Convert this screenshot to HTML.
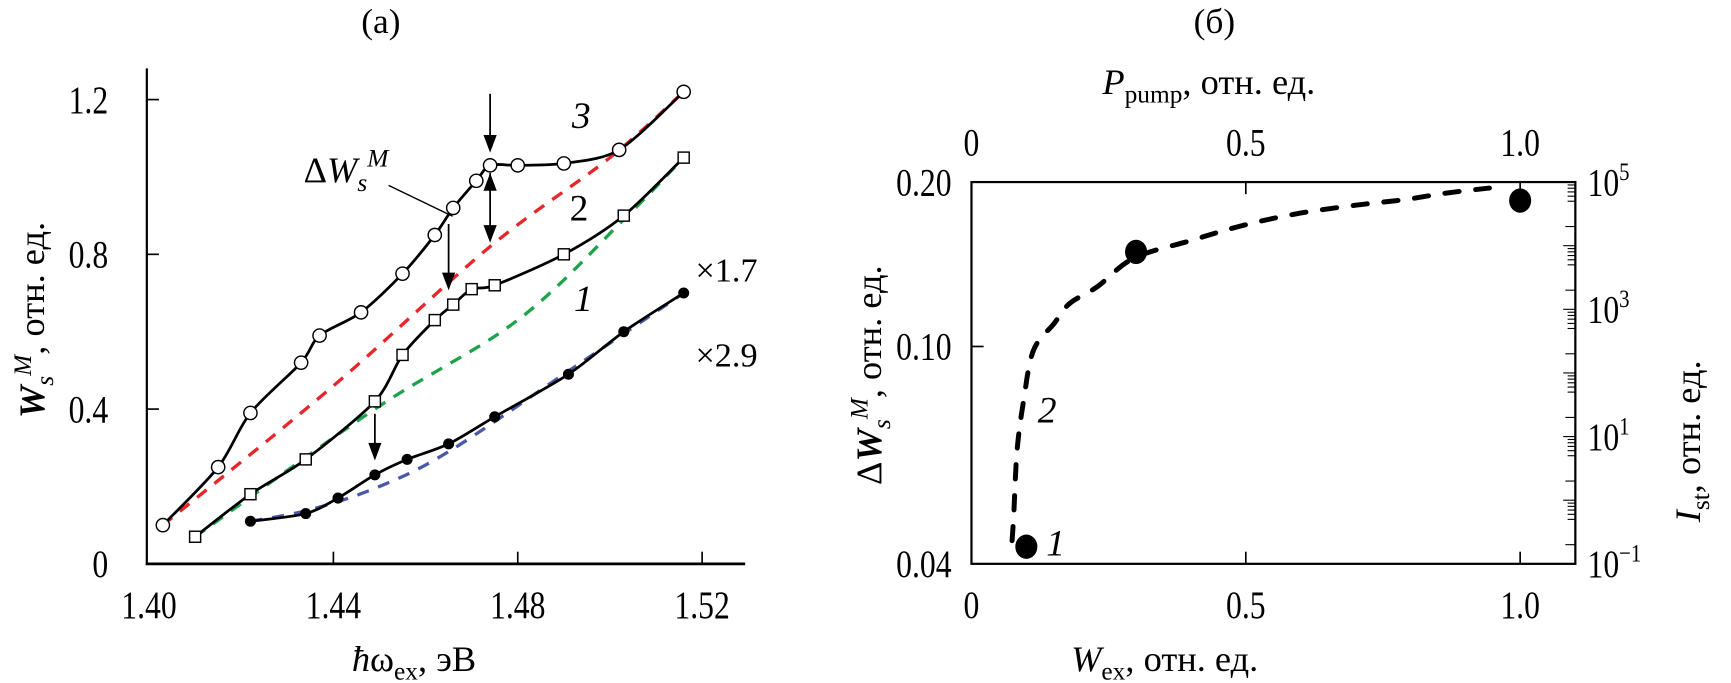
<!DOCTYPE html>
<html><head><meta charset="utf-8"><style>
html,body{margin:0;padding:0;background:#fff;}
svg{display:block;font-family:"Liberation Serif",serif;}
</style></head><body>
<svg id="fig" width="1731" height="683" viewBox="0 0 1568 619" preserveAspectRatio="none">
<g id="left"></g>
<g id="right"></g>
</svg>
<script>
// ---- Panel (a) data ----
const s3x=[1.403,1.415,1.422,1.433,1.437,1.446,1.455,1.462,1.466,1.471,1.474,1.480,1.490,1.502,1.516];
const s3y=[0.10,0.25,0.39,0.52,0.59,0.65,0.75,0.85,0.92,0.99,1.03,1.03,1.035,1.07,1.22];
const r3x=[1.403,1.44,1.474,1.50,1.516];
const r3y=[0.10,0.46,0.82,1.05,1.22];
const s2x=[1.410,1.422,1.434,1.449,1.455,1.462,1.466,1.470,1.475,1.490,1.503,1.516];
const s2y=[0.07,0.18,0.27,0.42,0.54,0.63,0.67,0.71,0.72,0.80,0.90,1.05];
const g2x=[1.410,1.449,1.48,1.503,1.516];
const g2y=[0.07,0.40,0.63,0.89,1.05];
const s1x=[1.422,1.434,1.441,1.449,1.456,1.465,1.475,1.491,1.503,1.516];
const s1y=[0.11,0.13,0.17,0.23,0.27,0.31,0.38,0.49,0.60,0.70];
const b1x=[1.422,1.435,1.45,1.465,1.49,1.516];
const b1y=[0.11,0.14,0.20,0.29,0.49,0.70];
const aXTicks=[1.40,1.44,1.48,1.52];
const aXLabels=["1.40","1.44","1.48","1.52"];
const aYTicks=[0,0.4,0.8,1.2];
const aYLabels=["0","0.4","0.8","1.2"];
// ---- Panel (b) data ----
const ptW=[0.1,0.3,1.0];
const ptD=[0.043,0.149,0.185];
const crvW=[0.074,0.077,0.083,0.095,0.113,0.151,0.179,0.229,0.296,0.400,0.489,0.590,0.700,0.789,0.865,0.944];
const crvD=[0.0441,0.0491,0.0643,0.0796,0.0984,0.1103,0.1199,0.1286,0.1451,0.1563,0.1660,0.1748,0.1814,0.1857,0.1909,0.1950];
const bXTicks=[0,0.5,1.0];
const bXLabels=["0","0.5","1.0"];
const bYTicks=[0.04,0.10,0.20];
const bYLabels=["0.04","0.10","0.20"];
const bRExp=[-1,1,3,5];

const NS="http://www.w3.org/2000/svg";
function mk(parent,tag,attrs,txt){const e=document.createElementNS(NS,tag);for(const k in attrs)e.setAttribute(k,attrs[k]);if(txt!==undefined)e.textContent=txt;parent.appendChild(e);return e;}
function smooth(pts,k){k=k||6;let d="M"+pts[0][0]+","+pts[0][1];for(let i=0;i<pts.length-1;i++){const p0=pts[Math.max(0,i-1)],p1=pts[i],p2=pts[i+1],p3=pts[Math.min(pts.length-1,i+2)];const c1=[p1[0]+(p2[0]-p0[0])/k,p1[1]+(p2[1]-p0[1])/k],c2=[p2[0]-(p3[0]-p1[0])/k,p2[1]-(p3[1]-p1[1])/k];d+=" C"+c1[0]+","+c1[1]+" "+c2[0]+","+c2[1]+" "+p2[0]+","+p2[1];}return d;}
const FS=35, SX=0.82;

// ===== Panel a =====
const L=document.getElementById('left');
const ax=v=>135+(v-1.40)/0.04*167;
const ay=v=>511-v/0.4*140.25;
let e;
e=mk(L,'text',{x:345,y:30,'font-size':32,'text-anchor':'middle'},'(a)');


e=mk(L,'line',{x1:133,y1:62,x2:133,y2:512,stroke:'#000','stroke-width':2});


e=mk(L,'line',{x1:132,y1:511,x2:675,y2:511,stroke:'#000','stroke-width':2.5});


aXTicks.forEach((t,i)=>{
  if(i>0){e=mk(L,'line',{x1:ax(t),y1:511,x2:ax(t),y2:500,stroke:'#000','stroke-width':1.5});
  
  }
  e=mk(L,'text',{x:ax(t),y:560,'font-size':FS,'text-anchor':'middle',transform:`translate(${ax(t)},0) scale(${SX},1) translate(${-ax(t)},0)`},aXLabels[i]);
  
  
});
aYTicks.forEach((t,i)=>{
  if(i>0){e=mk(L,'line',{x1:133,y1:ay(t),x2:144,y2:ay(t),stroke:'#000','stroke-width':1.5});
  
  }
  e=mk(L,'text',{x:98,y:ay(t)+12,'font-size':FS,'text-anchor':'end',transform:`translate(98,0) scale(${SX},1) translate(-98,0)`},aYLabels[i]);
  
  
});
e=mk(L,'text',{x:375,y:608,'font-size':33,'text-anchor':'middle'});
e.innerHTML='<tspan font-style="italic">ħ</tspan>ω<tspan font-size="23" dy="8">ex</tspan><tspan dy="-8">, эВ</tspan>';


e=mk(L,'text',{x:0,y:0,'font-size':33,'text-anchor':'middle',transform:'translate(40,290) rotate(-90)'});
e.innerHTML='<tspan font-style="italic" font-weight="bold">W</tspan><tspan font-size="23" font-style="italic" dy="8">s</tspan><tspan font-size="23" font-style="italic" dy="-20">M</tspan><tspan dy="12">, отн. ед.</tspan>';



function dashed(xs,ys,col,name){const p=xs.map((x,i)=>[ax(x),ay(ys[i])]);const el=mk(L,'path',{d:smooth(p),fill:'none',stroke:col,'stroke-width':3,'stroke-dasharray':'11 9'});

}
dashed(r3x,r3y,'#e8262a','baseline-3');
dashed(g2x,g2y,'#1ea34a','baseline-2');
dashed(b1x,b1y,'#4a5aa8','baseline-1');
function solid(xs,ys,name){const p=xs.map((x,i)=>[ax(x),ay(ys[i])]);const el=mk(L,'path',{d:smooth(p,7),fill:'none',stroke:'#000','stroke-width':2.5});

}
solid(s3x,s3y,'curve-3');solid(s2x,s2y,'curve-2');solid(s1x,s1y,'curve-1');
s3x.forEach((x,i)=>{e=mk(L,'circle',{cx:ax(x),cy:ay(s3y[i]),r:6,fill:'#fff',stroke:'#000','stroke-width':1.3});

});
s2x.forEach((x,i)=>{e=mk(L,'rect',{x:ax(x)-5,y:ay(s2y[i])-5,width:10,height:10,fill:'#fff',stroke:'#000','stroke-width':1.3});

});
s1x.forEach((x,i)=>{e=mk(L,'circle',{cx:ax(x),cy:ay(s1y[i]),r:5,fill:'#000'});

});
function arrow(x,y1,y2,dbl,name){const g=mk(L,'g',{});


mk(g,'line',{x1:x,y1:y1,x2:x,y2:y2-4,stroke:'#000','stroke-width':1.6});
mk(g,'path',{d:`M${x-6},${y2-16} L${x},${y2} L${x+6},${y2-16} Z`,fill:'#000'});
if(dbl)mk(g,'path',{d:`M${x-6},${y1+16} L${x},${y1} L${x+6},${y1+16} Z`,fill:'#000'});}
arrow(ax(1.474),85,ay(1.04)-8,false,'arrow-3');
arrow(ax(1.474),ay(1.01),ay(0.83),true,'delta-arrow');
arrow(ax(1.465),203,ay(0.69)-6,false,'arrow-2');
arrow(ax(1.449),375,ay(0.25)-6,false,'arrow-1');
e=mk(L,'line',{x1:352,y1:168,x2:410,y2:196,stroke:'#000','stroke-width':1.3});


e=mk(L,'text',{x:275,y:165,'font-size':33});
e.innerHTML='Δ<tspan font-style="italic">W</tspan><tspan font-size="23" font-style="italic" dy="8">s</tspan><tspan font-size="23" font-style="italic" dy="-22">M</tspan>';


[['3',518,116,'italic','label-3'],['2',516,200,'normal','label-2'],['1',520,282,'italic','label-1']].forEach(a=>{
 e=mk(L,'text',{x:a[1],y:a[2],'font-size':34,'font-style':a[3]},a[0]);
 
 });
e=mk(L,'text',{x:630,y:255,'font-size':31},'×1.7');


e=mk(L,'text',{x:630,y:332,'font-size':31},'×2.9');



// ===== Panel b =====
const R=document.getElementById('right');
const X0=880,X1=1427,YT=165,YB=511;
const bx=v=>X0+v*497;
const by=v=>YB-(YB-YT)*Math.log(v/0.04)/Math.log(5);
const ry=ex=>YB-(YB-YT)*(ex+1)/6;
e=mk(R,'text',{x:1100,y:30,'font-size':32,'text-anchor':'middle'},'(б)');


e=mk(R,'rect',{x:X0,y:YT,width:X1-X0,height:YB-YT,fill:'none',stroke:'#000','stroke-width':2});


bXTicks.forEach((t,i)=>{
 if(i>0){e=mk(R,'line',{x1:bx(t),y1:YB,x2:bx(t),y2:YB-11,stroke:'#000','stroke-width':1.5});
 
 
 e=mk(R,'line',{x1:bx(t),y1:YT,x2:bx(t),y2:YT+11,stroke:'#000','stroke-width':1.5});
 
 }
 const tf=`translate(${bx(t)},0) scale(${SX},1) translate(${-bx(t)},0)`;
 e=mk(R,'text',{x:bx(t),y:560,'font-size':FS,'text-anchor':'middle',transform:tf},bXLabels[i]);
 
 
 e=mk(R,'text',{x:bx(t),y:141,'font-size':FS,'text-anchor':'middle',transform:tf},bXLabels[i]);
 
 
});
bYTicks.forEach((t,i)=>{
 if(i==1){e=mk(R,'line',{x1:X0,y1:by(t),x2:X0+11,y2:by(t),stroke:'#000','stroke-width':1.5});
 
 }
 e=mk(R,'text',{x:862,y:by(t)+12,'font-size':FS,'text-anchor':'end',transform:`translate(862,0) scale(${SX},1) translate(-862,0)`},bYLabels[i]);
 
 
});
for(let d=-1;d<5;d++){for(let m=1;m<10;m++){const v=d+Math.log10(m);const y=ry(v);const len=m==1?11:(m==2?9:7);
 if(m==1||m==2||m>=5){e=mk(R,'line',{x1:X1,y1:y,x2:X1-len,y2:y,stroke:'#000','stroke-width':1});
 
 }}}
bRExp.forEach(ex=>{
 e=mk(R,'text',{x:1438,y:ry(ex)+12,'font-size':FS,transform:`translate(1438,0) scale(${SX},1) translate(-1438,0)`});
 e.innerHTML='10<tspan font-size="23" dy="-14">'+(ex<0?'−'+(-ex):ex)+'</tspan>';
 
 
});
e=mk(R,'path',{d:smooth(crvW.map((w,i)=>[bx(w),by(crvD[i])])),fill:'none',stroke:'#000','stroke-width':4.5,'stroke-dasharray':'13 15','stroke-linecap':'round'});


ptW.forEach((w,i)=>{e=mk(R,'ellipse',{cx:bx(w),cy:by(ptD[i]),rx:10,ry:11,fill:'#000'});

});
e=mk(R,'text',{x:bx(0.1)+18,y:by(ptD[0])+8,'font-size':34,'font-style':'italic'},'1');


e=mk(R,'text',{x:940,y:383,'font-size':34,'font-style':'italic'},'2');


e=mk(R,'text',{x:1095,y:85,'font-size':33,'text-anchor':'middle'});
e.innerHTML='<tspan font-style="italic">P</tspan><tspan font-size="23" dy="8">pump</tspan><tspan dy="-8">, отн. ед.</tspan>';


e=mk(R,'text',{x:1055,y:608,'font-size':33,'text-anchor':'middle'});
e.innerHTML='<tspan font-style="italic">W</tspan><tspan font-size="23" dy="8">ex</tspan><tspan dy="-8">, отн. ед.</tspan>';


e=mk(R,'text',{x:0,y:0,'font-size':33,'text-anchor':'middle',transform:'translate(798,340) rotate(-90)'});
e.innerHTML='Δ<tspan font-style="italic" font-weight="bold">W</tspan><tspan font-size="23" font-style="italic" dy="8">s</tspan><tspan font-size="23" font-style="italic" dy="-20">M</tspan><tspan dy="12">, отн. ед.</tspan>';


e=mk(R,'text',{x:0,y:0,'font-size':33,'text-anchor':'middle',transform:'translate(1540,400) rotate(-90)'});
e.innerHTML='<tspan font-style="italic">I</tspan><tspan font-size="23" dy="8">st</tspan><tspan dy="-8">, отн. ед.</tspan>';


</script>
</body></html>
